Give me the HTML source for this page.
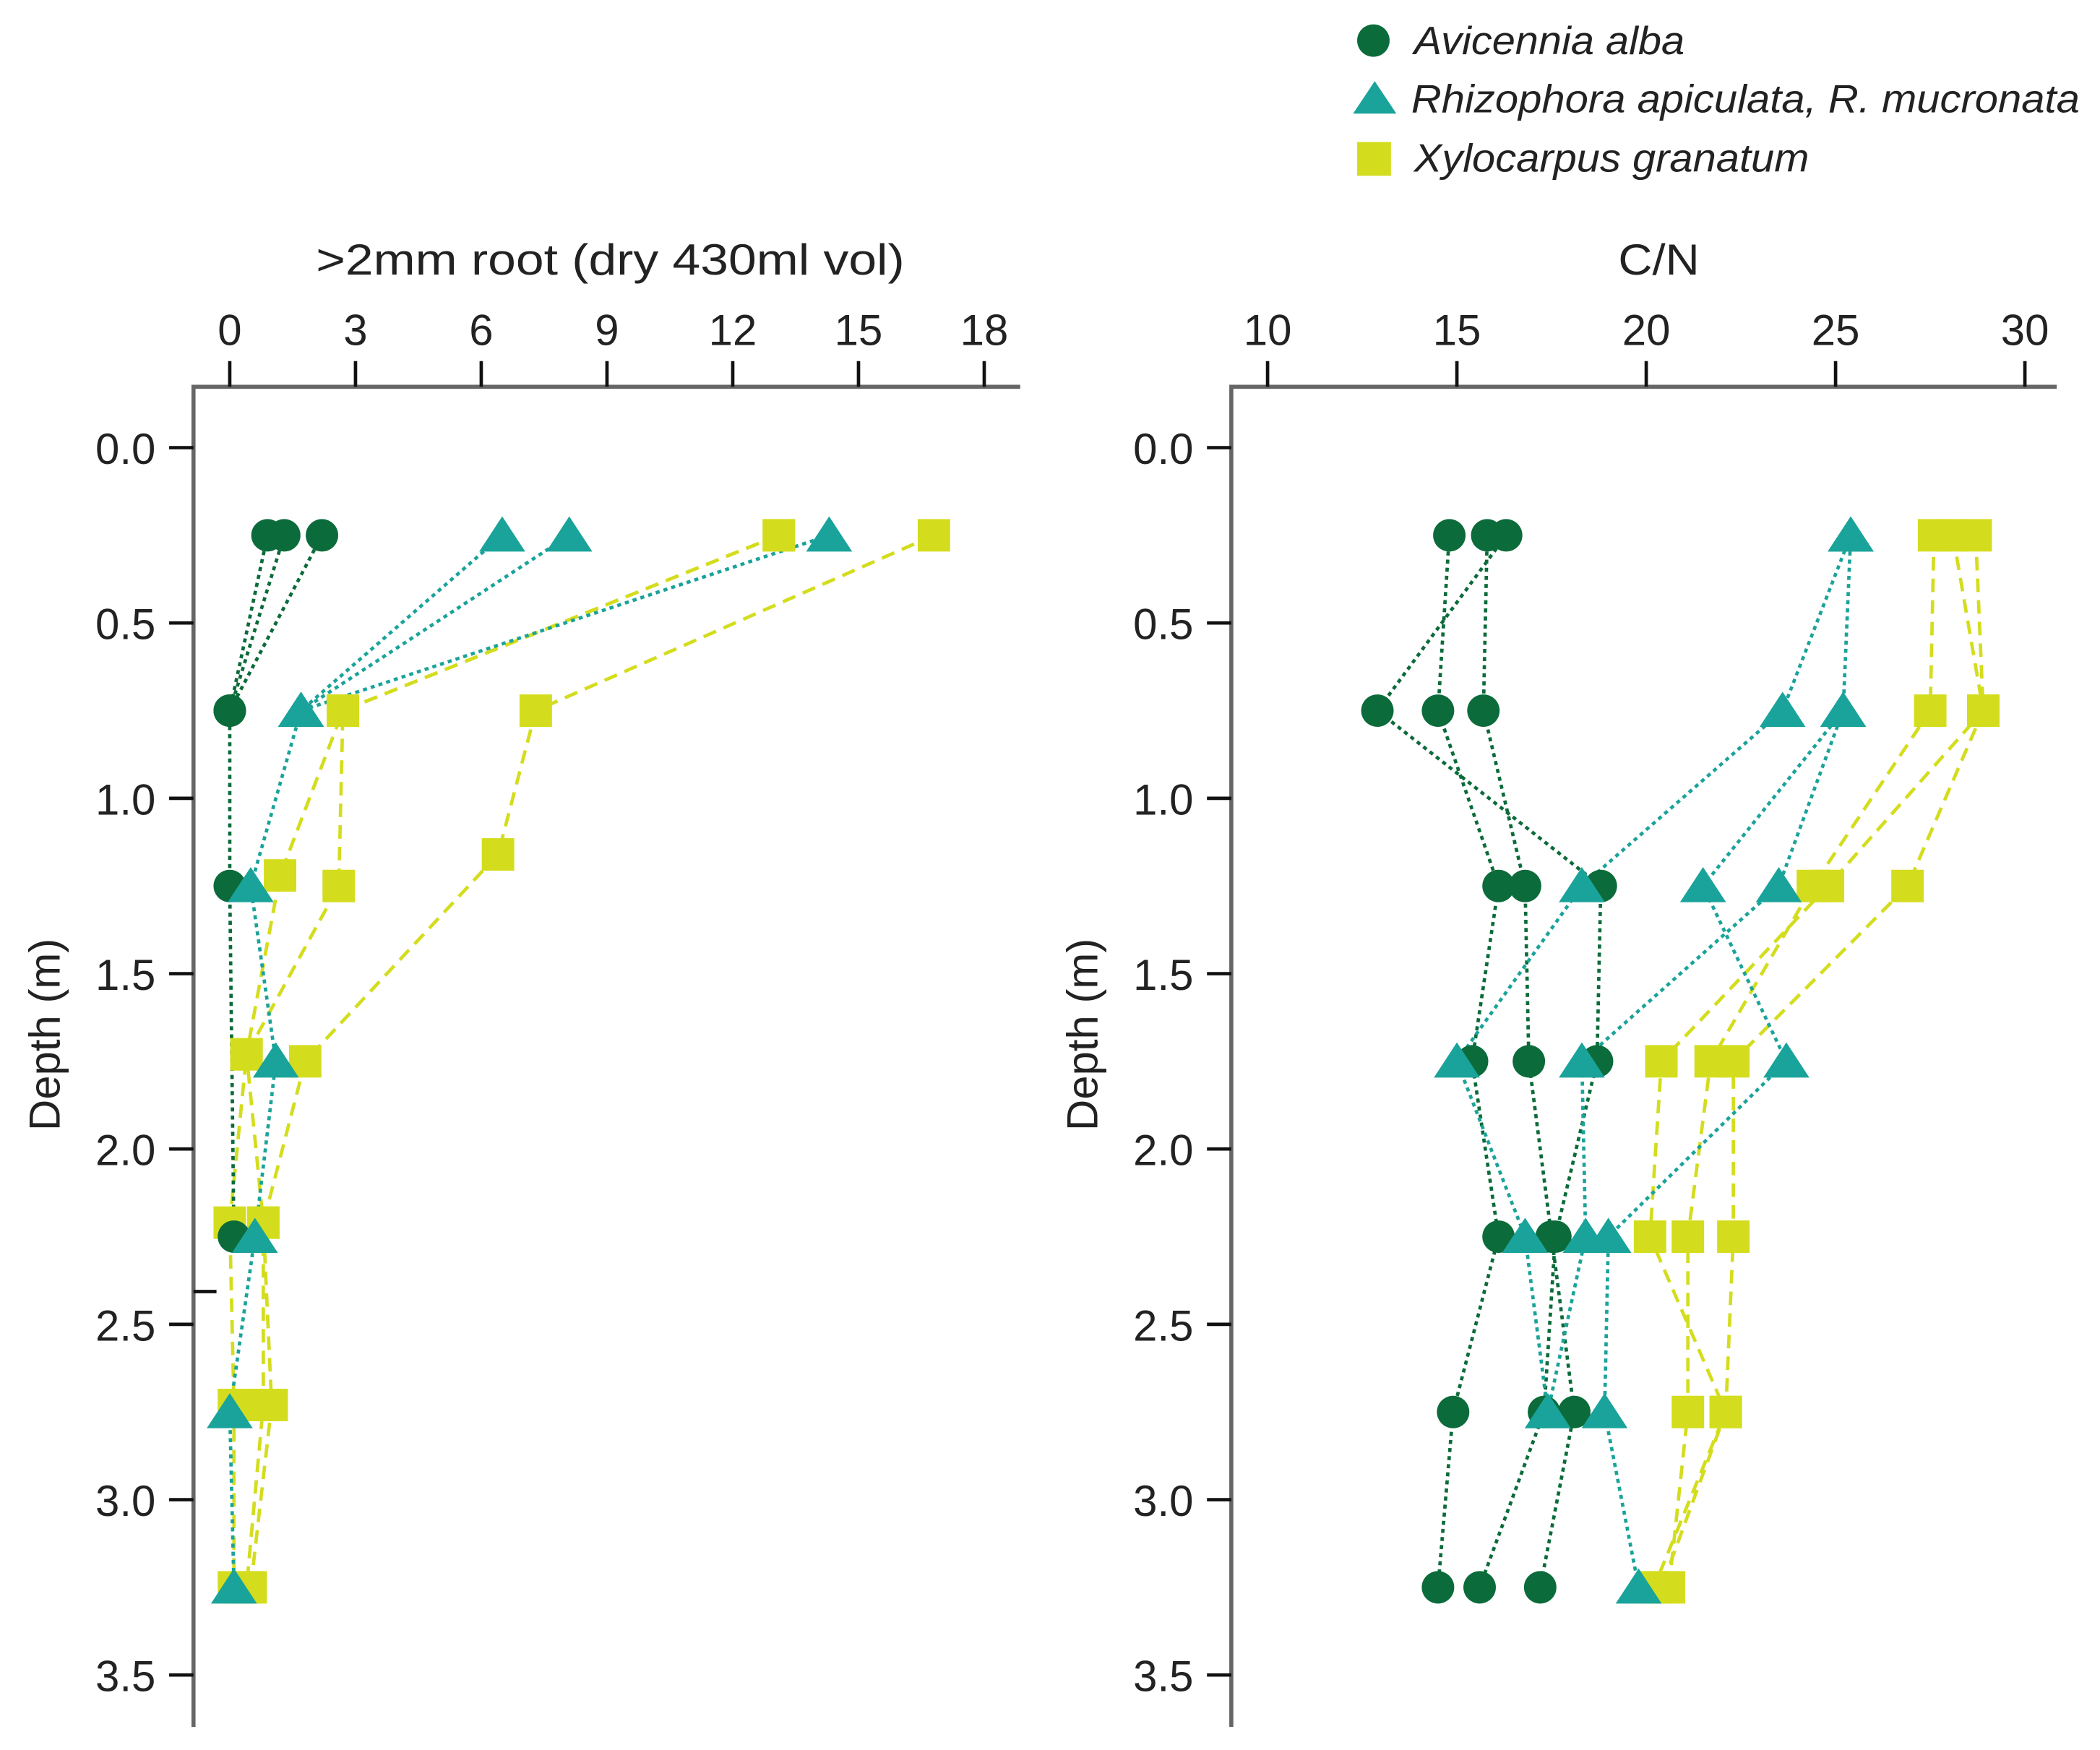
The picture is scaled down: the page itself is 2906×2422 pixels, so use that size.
<!DOCTYPE html>
<html><head><meta charset="utf-8"><style>
html,body{margin:0;padding:0;background:#fff}
svg{display:block}
text{font-family:"Liberation Sans",sans-serif;fill:#222}
</style></head><body>
<svg id="chart" width="2906" height="2422" viewBox="0 0 1552 1294" preserveAspectRatio="none" xmlns="http://www.w3.org/2000/svg">
<g>
<circle cx="1015" cy="30" r="12" fill="#0b6b3a"/>
<text x="1045" y="40" font-size="29" font-style="italic" textLength="200" lengthAdjust="spacingAndGlyphs">Avicennia alba</text>
<polygon points="1000,84 1032,84 1016,60" fill="#1aa39a"/>
<text x="1043" y="83" font-size="29" font-style="italic" textLength="494" lengthAdjust="spacingAndGlyphs">Rhizophora apiculata, R. mucronata</text>
<rect x="1003" y="105" width="25" height="25" fill="#d4dd1d"/>
<text x="1045" y="127" font-size="29" font-style="italic" textLength="292" lengthAdjust="spacingAndGlyphs">Xylocarpus granatum</text>
</g>
<g id="plots"></g>
</svg>
<script>
const depthTicks=[0.0,0.5,1.0,1.5,2.0,2.5,3.0,3.5];
const rootTicks=[0,3,6,9,12,15,18];
const cnTicks=[10,15,20,25,30];
// left panel: root biomass profiles [depth, value]
const rootAvi=[[[0.25,0.9],[0.75,0],[1.25,0],[2.25,0.1]],[[0.25,1.3],[0.75,0]],[[0.25,2.2],[0.75,0]]];
const rootRhi=[[[0.25,6.5],[0.75,1.7],[1.25,0.5],[1.75,1.1],[2.25,0.6],[2.75,0],[3.25,0.1]],[[0.25,8.1],[0.75,1.7]],[[0.25,14.3],[0.75,1.7]]];
const rootXyl=[[[0.25,16.8],[0.75,7.3],[1.16,6.4],[1.75,1.8],[2.21,0.8],[2.73,1.0],[3.25,0.5]],[[0.25,13.1],[0.75,2.7],[1.25,2.6],[1.73,0.4],[2.21,0.0],[2.73,0.1],[3.25,0.1]],[[0.25,13.1],[0.75,2.7],[1.22,1.2],[1.73,0.4],[2.21,0.8],[2.73,0.8],[3.25,0.4]]];
// right panel: C/N profiles
const cnAvi=[[[0.25,16.3],[0.75,12.9],[1.25,18.8],[1.75,18.7],[2.25,17.6],[2.75,17.3],[3.25,15.6]],[[0.25,14.8],[0.75,14.5],[1.25,16.1],[1.75,15.4],[2.25,16.1],[2.75,14.9],[3.25,14.5]],[[0.25,15.8],[0.75,15.7],[1.25,16.8],[1.75,16.9],[2.25,17.5],[2.75,18.1],[3.25,17.2]]];
const cnRhi=[[[0.25,25.4],[0.75,25.2],[1.25,21.5],[1.75,23.7],[2.25,19.0],[2.75,18.9],[3.25,19.8]],[[0.25,25.4],[0.75,23.6],[1.25,18.3],[1.75,15.0],[2.25,16.8],[2.75,17.4]],[[0.75,25.2],[1.25,23.5],[1.75,18.3],[2.25,18.4],[2.75,17.4]]];
const cnXyl=[[[0.25,27.6],[0.75,27.5],[1.25,24.4],[1.75,21.7],[2.25,21.1],[2.75,21.1],[3.25,20.6]],[[0.25,28.7],[0.75,28.9],[1.25,26.9],[1.75,22.3],[2.25,22.3],[2.75,22.1],[3.25,20.2]],[[0.25,28.1],[0.75,28.9],[1.25,24.8],[1.75,20.4],[2.25,20.1],[2.75,22.1],[3.25,20.4]]];

const NS="http://www.w3.org/2000/svg";
const root=document.getElementById('plots');
function mk(tag,attrs,parent){const e=document.createElementNS(NS,tag);for(const k in attrs)e.setAttribute(k,attrs[k]);parent.appendChild(e);return e;}
const yScale=d=>331+d*259.3;

function panel(opt){
  const g=mk('g',{},root);
  
  
  const xs=v=>opt.x0+(v-opt.v0)*opt.k;
  const ax=mk('path',{d:`M${opt.ax} 1277 V286 H${opt.axEnd}`,stroke:'#666','stroke-width':3,fill:'none'},g);
  
  
  depthTicks.forEach(d=>{
    const t=mk('line',{x1:opt.ax-18,x2:opt.ax,y1:yScale(d),y2:yScale(d),stroke:'#111','stroke-width':2.5},g);
    
    
    const l=mk('text',{x:opt.ax-28,y:yScale(d)+12,'font-size':32,'text-anchor':'end'},g);
    l.textContent=d.toFixed(1);
    
    
  });
  opt.ticks.forEach(v=>{
    const t=mk('line',{x1:xs(v),x2:xs(v),y1:267,y2:286,stroke:'#111','stroke-width':2.5},g);
    
    
    const l=mk('text',{x:xs(v),y:255,'font-size':32,'text-anchor':'middle'},g);
    l.textContent=v;
    
    
  });
  const xt=mk('text',{x:opt.titleX,y:203,'font-size':32,'text-anchor':'middle',textLength:opt.titleLen,lengthAdjust:'spacingAndGlyphs'},g);
  xt.textContent=opt.title;
  
  
  const yt=mk('text',{x:0,y:0,'font-size':32,'text-anchor':'middle',transform:`translate(${opt.ax-99},765) rotate(-90)`},g);
  yt.textContent='Depth (m)';
  
  
  const series=[[opt.xyl,'#d4dd1d','10 6','sq'],[opt.avi,'#0b6b3a','3 3','ci'],[opt.rhi,'#1aa39a','3 3','tr']];
  series.forEach(([profiles,col,dash])=>{
    profiles.forEach(p=>{
      const pl=mk('polyline',{points:p.map(([d,v])=>xs(v)+','+yScale(d)).join(' '),fill:'none',stroke:col,'stroke-width':2.5,'stroke-dasharray':dash},g);
      
      
    });
  });
  series.forEach(([profiles,col,dash,shape])=>{
    profiles.forEach(p=>p.forEach(([d,v])=>{
      const x=xs(v),y=yScale(d);let m;
      if(shape==='ci')m=mk('circle',{cx:x,cy:y,r:12,fill:col},g);
      else if(shape==='tr')m=mk('polygon',{points:`${x-17},${y+12} ${x+17},${y+12} ${x},${y-14}`,fill:col},g);
      else m=mk('rect',{x:x-12,y:y-12,width:24,height:24,fill:col},g);
      
      
    }));
  });
}
panel({name:'root-panel',ax:143,axEnd:754,x0:169.8,v0:0,k:(727.4-169.8)/18,ticks:rootTicks,title:'>2mm root (dry 430ml vol)',titleX:451,titleLen:435,avi:rootAvi,rhi:rootRhi,xyl:rootXyl});
panel({name:'cn-panel',ax:910,axEnd:1520,x0:936.8,v0:10,k:(1496.5-936.8)/20,ticks:cnTicks,title:'C/N',titleX:1226,titleLen:60,avi:cnAvi,rhi:cnRhi,xyl:cnXyl});
const stray=mk('line',{x1:143,x2:160,y1:955,y2:955,stroke:'#111','stroke-width':2.5},root);


</script>
</body></html>
